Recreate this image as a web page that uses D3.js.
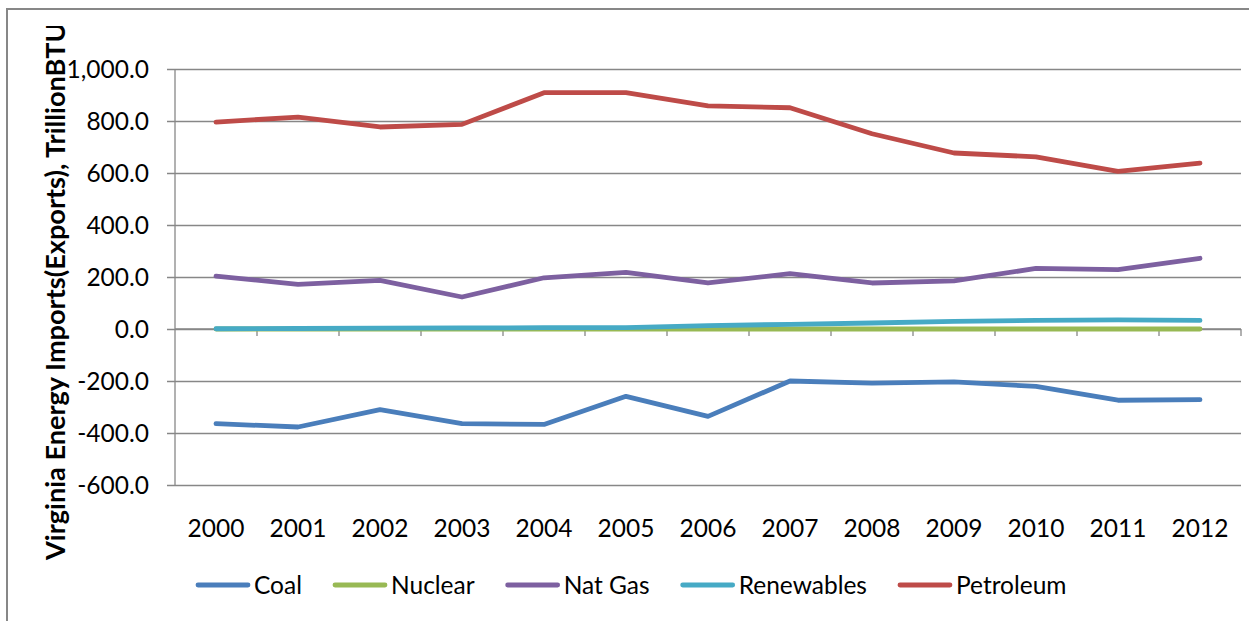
<!DOCTYPE html>
<html>
<head>
<meta charset="utf-8">
<script src="https://cdn.jsdelivr.net/npm/d3@7"></script>
<style>
  html, body { margin: 0; padding: 0; background: #fff; }
  svg { display: block; }
  text { font-family: Lato, "Open Sans", sans-serif; fill: #000; }
</style>
</head>
<body>
<svg id="chart" width="1249" height="621"></svg>
<script>
// ---- data ----
const years = ["2000","2001","2002","2003","2004","2005","2006","2007","2008","2009","2010","2011","2012"];
const coal       = [-364,-377,-310,-364,-367,-259,-336,-200,-208,-203,-221,-274,-272];
const nuclear    = [0,0,0,0,0,0,0,0,0,0,0,0,0];
const natGas     = [203,172,187,123,197,218,177,213,177,185,233,228,272];
const renewables = [1,2,3,4,5,5,13,18,23,29,33,35,33];
const petroleum  = [796,815,777,787,909,909,858,851,751,677,662,606,638];
const seriesNames = ["Coal","Nuclear","Nat Gas","Renewables","Petroleum"];
const seriesColors = ["#4a7ebb","#98b954","#7d60a0","#46aac5","#be4b48"];
const yTicks = [-600,-400,-200,0,200,400,600,800,1000];
const yTitle = "Virginia Energy Imports(Exports), TrillionBTU";

const seriesValues = [coal, nuclear, natGas, renewables, petroleum];

// ---- layout ----
const svg = d3.select("#chart");
const pLeft = 175, pRight = 1241, pTop = 69, pBottom = 485;
const grid = "#878787";
const fs = "24.5px";

const x = d3.scaleBand().domain(years).range([pLeft, pRight]);
const y = d3.scaleLinear().domain([-600, 1000]).range([pBottom, pTop]);

// chart border
svg.append("rect").attr("x", 7).attr("y", 9).attr("width", 1260).attr("height", 640)
  .attr("fill", "none").attr("stroke", grid).attr("stroke-width", 2);

// y axis with gridlines
const fmt = d3.format(",.1f");
const yAxis = d3.axisLeft(y).tickValues(yTicks)
  .tickSize(-(pRight - pLeft))
  .tickFormat(d => fmt(d).replace("\u2212", "-"));
const gy = svg.append("g").attr("transform", `translate(${pLeft},0)`).call(yAxis);
gy.select(".domain").remove();
gy.selectAll(".tick line").attr("stroke", grid).attr("stroke-width", 1.3).attr("x1", -8);
gy.selectAll(".tick text").attr("x", -26).attr("dy", "0.35em")
  .style("font-size", fs).style("font-family", "Lato").attr("fill", "#000");
svg.append("line").attr("x1", pLeft).attr("x2", pLeft).attr("y1", pTop).attr("y2", pBottom)
  .attr("stroke", grid).attr("stroke-width", 1.3);

// x axis at zero
const xTickPos = d3.range(years.length + 1).map(i => pLeft + i * x.step());
svg.append("line").attr("x1", pLeft).attr("x2", pRight).attr("y1", y(0)).attr("y2", y(0))
  .attr("stroke", grid).attr("stroke-width", 1.3);
svg.append("g").selectAll("line").data(xTickPos.slice(1)).join("line")
  .attr("x1", d => d).attr("x2", d => d).attr("y1", y(0)).attr("y2", y(0) + 7)
  .attr("stroke", grid).attr("stroke-width", 1.3);

// x labels
svg.append("g").selectAll("text").data(years).join("text")
  .attr("x", d => x(d) + x.bandwidth() / 2).attr("y", 537)
  .attr("text-anchor", "middle").style("font-size", fs).text(d => d);

// lines
const line = d3.line().x((d, i) => x(years[i]) + x.bandwidth() / 2).y(d => y(d));
svg.append("g").selectAll("path").data(seriesValues).join("path")
  .attr("d", d => line(d)).attr("fill", "none")
  .attr("stroke", (d, i) => seriesColors[i]).attr("stroke-width", 4.8)
  .attr("stroke-linejoin", "round").attr("stroke-linecap", "round");

// y title (clipped at top like original)
svg.append("clipPath").attr("id", "tclip").append("rect")
  .attr("x", 0).attr("y", 26).attr("width", 200).attr("height", 600);
const tg = svg.append("g").attr("clip-path", "url(#tclip)");
const tt = tg.append("text")
  .attr("transform", "translate(65,560) rotate(-90)")
  .style("font-weight", "bold").style("font-size", "26px").text(yTitle);
const tl = tt.node().getComputedTextLength();
tt.style("font-size", (26 * 538 / tl) + "px");

// legend
let lx = 196;
const ly = 585;
seriesNames.forEach((name, i) => {
  svg.append("line").attr("x1", lx + 2).attr("x2", lx + 52).attr("y1", ly).attr("y2", ly)
    .attr("stroke", seriesColors[i]).attr("stroke-width", 4.8).attr("stroke-linecap", "round");
  const t = svg.append("text").attr("x", lx + 58).attr("y", ly + 8.5)
    .style("font-size", fs).text(name);
  lx = lx + 58 + t.node().getComputedTextLength() + 31;
});
</script>
</body>
</html>
